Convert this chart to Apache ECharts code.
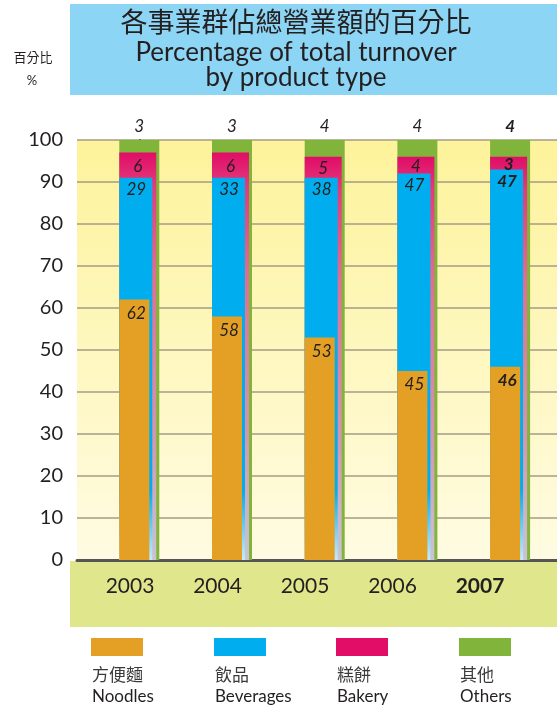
<!DOCTYPE html>
<html>
<head>
<meta charset="utf-8">
<title>各事業群佔總營業額的百分比</title>
<script src="https://cdn.jsdelivr.net/npm/echarts@6/dist/echarts.min.js"></script>
<style>
  html, body { margin: 0; padding: 0; background: #ffffff; }
  #chart { width: 557px; height: 711px; }
</style>
</head>
<body>
<div id="chart"></div>
<script>
// Share of turnover (%) by product type, 2003-2007
const years = ['2003', '2004', '2005', '2006', '2007'];
const noodles = [62, 58, 53, 45, 46];
const beverages = [29, 33, 38, 47, 47];
const bakery = [6, 6, 5, 4, 3];
const others = [3, 3, 4, 4, 4];

const namesZh = ['方便麵', '飲品', '糕餅', '其他'];
const namesEn = ['Noodles', 'Beverages', 'Bakery', 'Others'];
const colors = ['#e3a024', '#00aeef', '#e10d67', '#80b43a'];

const yMin = 0, yMax = 100, yStep = 10;

const titleZh = '各事業群佔總營業額的百分比';
const titleEn1 = 'Percentage of total turnover';
const titleEn2 = 'by product type';
const yNameZh = '百分比';
const yNameEn = '%';

const LATIN = 'Lato, "Open Sans", sans-serif';
const CJK = '"Noto Sans CJK TC", "Noto Sans CJK SC", sans-serif';

// Each segment is drawn as a bar rising from zero to its cumulative top,
// layered back to front (others, bakery, beverages, noodles) with narrowing widths.
const segments = [noodles, beverages, bakery, others];
const cumulative = segments.map((_, k) =>
  years.map((__, i) => segments.slice(0, k + 1).reduce((s, arr) => s + arr[i], 0))
);

// per layer: bar width (px), label offset from segment top (px)
const layerStyle = [
  { width: 30, labelDx: 2,   labelDy: 14 },   // noodles
  { width: 33, labelDx: 0.5, labelDy: 12 },   // beverages
  { width: 37, labelDx: 0,   labelDy: null }, // bakery (centred in segment)
  { width: 40, labelDx: 0,   labelDy: -13 }   // others (above the bar)
];
const FULL_W = 40;

function gradientFor(k) {
  if (k === 2) {
    return new echarts.graphic.LinearGradient(0, 0, 0, 1, [
      { offset: 0, color: '#e10d67' },
      { offset: 0.08, color: '#e23a7c' },
      { offset: 0.3, color: '#de6f92' },
      { offset: 0.7, color: '#d497ae' },
      { offset: 1, color: '#c9c4d4' }
    ]);
  }
  if (k === 1) {
    return new echarts.graphic.LinearGradient(0, 0, 0, 1, [
      { offset: 0, color: '#00aeef' },
      { offset: 0.82, color: '#00aeef' },
      { offset: 1, color: '#c6ebf9' }
    ]);
  }
  return colors[k];
}

function makeSeries(k) {
  const st = layerStyle[k];
  const lowerTops = k > 0 ? cumulative[k - 1] : null;
  return {
    type: 'custom',
    name: namesEn[k],
    xAxisIndex: 0,
    yAxisIndex: 0,
    data: years.map((_, i) => [i, cumulative[k][i], segments[k][i], lowerTops ? lowerTops[i] : 0]),
    renderItem: function (params, api) {
      const i = api.value(0);
      const top = api.value(1);
      const seg = api.value(2);
      const below = api.value(3);
      const base = api.coord([i, 0]);
      const peak = api.coord([i, top]);
      const left = base[0] - FULL_W / 2;
      let ly;
      if (st.labelDy === null) {
        const lowPix = api.coord([i, below])[1];
        ly = (peak[1] + lowPix) / 2 + 1;
      } else {
        ly = peak[1] + st.labelDy;
      }
      const bold = i === years.length - 1;
      return {
        type: 'group',
        children: [
          {
            type: 'rect',
            shape: { x: left, y: peak[1], width: st.width, height: base[1] - peak[1] },
            style: { fill: gradientFor(k) }
          },
          {
            type: 'text',
            z2: 100,
            style: {
              text: String(seg),
              x: left + st.width / 2 + st.labelDx,
              y: ly,
              align: 'center', verticalAlign: 'middle',
              textAlign: 'center', textVerticalAlign: 'middle',
              font: (bold ? 'italic bold ' : 'italic ') + '17px ' + LATIN,
              fill: '#231f20'
            }
          }
        ]
      };
    }
  };
}

const legendX = [91, 214, 336, 459];
const legendGraphics = [];
namesEn.forEach((name, k) => {
  legendGraphics.push({
    type: 'rect', shape: { x: legendX[k], y: 638, width: 52, height: 18 },
    style: { fill: colors[k] }
  });
  legendGraphics.push({
    type: 'text', x: legendX[k] + 1, y: 675,
    style: { text: namesZh[k], font: '17px ' + CJK, fill: '#3a3a3a',
             align: 'left', verticalAlign: 'middle', textAlign: 'left', textVerticalAlign: 'middle' }
  });
  legendGraphics.push({
    type: 'text', x: legendX[k] + 1, y: 697,
    style: { text: name, font: '17px ' + LATIN, fill: '#231f20',
             align: 'left', verticalAlign: 'middle', textAlign: 'left', textVerticalAlign: 'middle' }
  });
});

function centerText(text, x, y, font, fill) {
  return {
    type: 'text', x: x, y: y,
    style: { text: text, font: font, fill: fill || '#231f20',
             align: 'center', verticalAlign: 'middle', textAlign: 'center', textVerticalAlign: 'middle' }
  };
}

const chart = echarts.init(document.getElementById('chart'), null, { renderer: 'canvas' });

chart.setOption({
  animation: false,
  backgroundColor: '#ffffff',
  grid: [
    {
      left: 77, top: 140, width: 480, height: 420,
      show: true, borderWidth: 0,
      backgroundColor: new echarts.graphic.LinearGradient(0, 0, 0, 1, [
        { offset: 0, color: '#fdf39b' },
        { offset: 1, color: '#fffbe2' }
      ])
    },
    { left: 86.25, top: 540, width: 437.5, height: 20, show: false }
  ],
  xAxis: [
    {
      gridIndex: 0, type: 'value', min: -0.672, max: 4.506,
      axisLine: { show: true, onZero: true, lineStyle: { color: '#555555', width: 3 } },
      axisTick: { show: false }, axisLabel: { show: false }, splitLine: { show: false }
    },
    {
      gridIndex: 1, type: 'category', data: years, position: 'bottom',
      axisLine: { show: false }, axisTick: { show: false }, splitLine: { show: false },
      axisLabel: {
        interval: 0, margin: 26, verticalAlign: 'middle',
        fontFamily: LATIN, fontSize: 21, color: '#231f20',
        formatter: function (v, idx) { return idx === years.length - 1 ? '{b|' + v + '}' : '{n|' + v + '}'; },
        rich: {
          n: { fontFamily: LATIN, fontSize: 21, color: '#231f20' },
          b: { fontFamily: LATIN, fontSize: 21, fontWeight: 'bold', color: '#231f20' }
        }
      }
    }
  ],
  yAxis: [
    {
      gridIndex: 0, type: 'value', min: yMin, max: yMax, interval: yStep,
      axisLine: { show: true, lineStyle: { color: '#5a5a5a', width: 2 } },
      axisTick: { show: false },
      axisLabel: { margin: 14, fontFamily: LATIN, fontSize: 20, color: '#231f20' },
      splitLine: { show: true, lineStyle: { color: '#a39d84', width: 1.6 } }
    },
    { gridIndex: 1, type: 'value', show: false }
  ],
  graphic: [
    { type: 'rect', z: -10, shape: { x: 70, y: 4, width: 487, height: 91 }, style: { fill: '#8dd5f4' } },
    { type: 'rect', z: -10, shape: { x: 70, y: 561, width: 487, height: 66 }, style: { fill: '#dfe68b' } },
    centerText(titleZh, 296, 21.5, '27px ' + CJK),
    centerText(titleEn1, 296, 53, '26px ' + LATIN),
    centerText(titleEn2, 296, 77.5, '26px ' + LATIN),
    centerText(yNameZh, 33, 57, '13px ' + CJK),
    centerText(yNameEn, 32, 81, '13px ' + LATIN)
  ].concat(legendGraphics),
  series: [3, 2, 1, 0].map(makeSeries)
});
</script>
</body>
</html>
